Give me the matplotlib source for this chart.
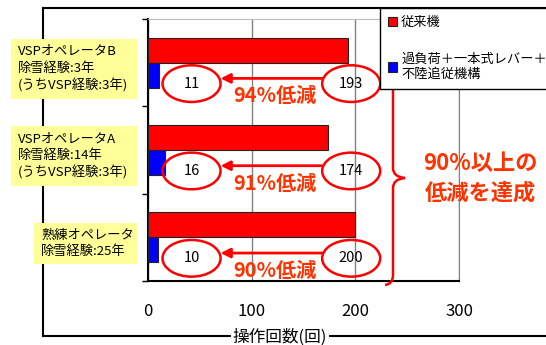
import numpy as np
import matplotlib
matplotlib.use('Agg')
import matplotlib.pyplot as plt
from matplotlib.patches import Ellipse, Rectangle, PathPatch
from matplotlib.path import Path
from matplotlib.lines import Line2D
from matplotlib import transforms

plt.rcParams['font.family'] = ['Noto Sans CJK JP', 'DejaVu Sans']

# operators, bottom to top
operators = ["熟練オペレータ\n除雪経験:25年",
             "VSPオペレータA\n除雪経験:14年\n(うちVSP経験:3年)",
             "VSPオペレータB\n除雪経験:3年\n(うちVSP経験:3年)"]
conventional = [200, 174, 193]     # 従来機
improved = [10, 16, 11]            # 過負荷＋一本式レバー＋不陸追従機構
reduction = ["90%", "91%", "94%"]
series_names = ["従来機", "過負荷＋一本式レバー＋\n不陸追従機構"]
xticks = [0, 100, 200, 300]

W, H = 546, 345
def px(x, y):
    return x / W, 1 - y / H

fig = plt.figure(figsize=(W / 100, H / 100), dpi=100)
ax = fig.add_axes([148 / W, 1 - 281 / H, (459 - 148) / W, (281 - 19) / H])

# outer frame
fl = dict(color='black', lw=1.5, transform=fig.transFigure)
fig.add_artist(Line2D([43 / W, 43 / W], [1 - 8 / H, 1 - 336 / H], **fl))
fig.add_artist(Line2D([43 / W, 1], [1 - 8 / H, 1 - 8 / H], **fl))
fig.add_artist(Line2D([43 / W, 1], [1 - 336 / H, 1 - 336 / H], **fl))

y = np.arange(len(operators))
bh = 0.286
b1 = ax.barh(y + bh / 2, conventional, height=bh, color='#FF0000',
             edgecolor='#222222', lw=0.8, zorder=3)
b2 = ax.barh(y - bh / 2, improved, height=bh, color='#0000FF',
             edgecolor='#222222', lw=0.8, zorder=3)

ax.set_xlim(0, 300)
ax.set_ylim(-0.5, 2.5)
ax.set_xticks(xticks)
ax.set_xticklabels([str(t) for t in xticks])
ax.set_yticks([-0.5, 0.5, 1.5, 2.5])
ax.set_yticklabels([])
ax.tick_params(axis='x', length=0, pad=16, labelsize=12)
ax.tick_params(axis='y', length=4, direction='out', width=1)
ax.grid(axis='x', color='#808080', lw=1, zorder=0)
ax.spines['top'].set_color('#BBBBBB')
ax.spines['right'].set_color('#808080')
ax.spines['left'].set_linewidth(1.5)
ax.spines['bottom'].set_linewidth(1.5)

fig.text(280 / W, 1 - 337 / H, "操作回数(回)", ha='center', va='center',
         fontsize=12, bbox=dict(facecolor='white', edgecolor='none', pad=1))

# value ellipses, arrows and reduction labels
for i in range(len(operators)):
    ye = y[i] - 0.24
    for xc, val in [(42, improved[i]), (196, conventional[i])]:
        ax.add_patch(Ellipse((xc, ye), 56, 0.42, fill=False, edgecolor='red',
                             lw=1.8, zorder=5, clip_on=False))
        ax.text(xc, ye, str(val), ha='center', va='center', fontsize=10.5,
                zorder=6)
    ya = y[i] - 0.18
    ax.annotate('', xy=(70, ya), xytext=(168, ya),
                arrowprops=dict(arrowstyle='-|>', color='red', lw=2,
                                mutation_scale=14, shrinkA=0, shrinkB=0),
                zorder=5)
    ax.text(122, y[i] - 0.38, reduction[i] + "低減", ha='center', va='center',
            color='#FF3300', fontsize=14.5, fontweight='bold', zorder=6,
            clip_on=False)

# operator label boxes
blend = transforms.blended_transform_factory(fig.transFigure, ax.transData)
box_left = [34, 11, 11]
for i, lab in enumerate(operators):
    n = lab.count("\n") + 1
    hgt = 0.69 if n == 3 else 0.47
    yc = y[i] - 0.07
    fig.add_artist(Rectangle((box_left[i] / W, yc - hgt / 2), (137 - box_left[i]) / W,
                             hgt, facecolor='#FFFF99', edgecolor='none',
                             transform=blend, zorder=2))
    fig.text((box_left[i] + 7) / W, yc, lab, transform=blend, ha='left',
             va='center', fontsize=9.5, linespacing=1.35, zorder=3)

# legend
leg = fig.legend([b1, b2], series_names, loc='upper left',
                 bbox_to_anchor=px(380, 8), borderaxespad=0, fancybox=False,
                 edgecolor='black', framealpha=1, fontsize=9.5,
                 handlelength=0.7, handleheight=0.7, handletextpad=0.3,
                 labelspacing=1.8, borderpad=0.6)
leg.get_frame().set_linewidth(1)

# brace
pts = [(385, 65), (393, 66), (393, 76), (393, 168), (393, 177), (405, 178),
       (393, 179), (393, 188), (393, 275), (393, 284), (385, 285)]
codes = [Path.MOVETO, Path.CURVE3, Path.CURVE3, Path.LINETO, Path.CURVE3,
         Path.CURVE3, Path.CURVE3, Path.CURVE3, Path.LINETO, Path.CURVE3,
         Path.CURVE3]
brace = Path([px(*p) for p in pts], codes)
fig.add_artist(PathPatch(brace, fill=False, edgecolor='red', lw=1.8,
                         transform=fig.transFigure))

fig.text(480 / W, 1 - 178 / H, "90%以上の\n低減を達成", ha='center',
         va='center', fontsize=16, fontweight='bold', color='#FF3300',
         linespacing=1.35)

fig.savefig('out.png', dpi=100)
